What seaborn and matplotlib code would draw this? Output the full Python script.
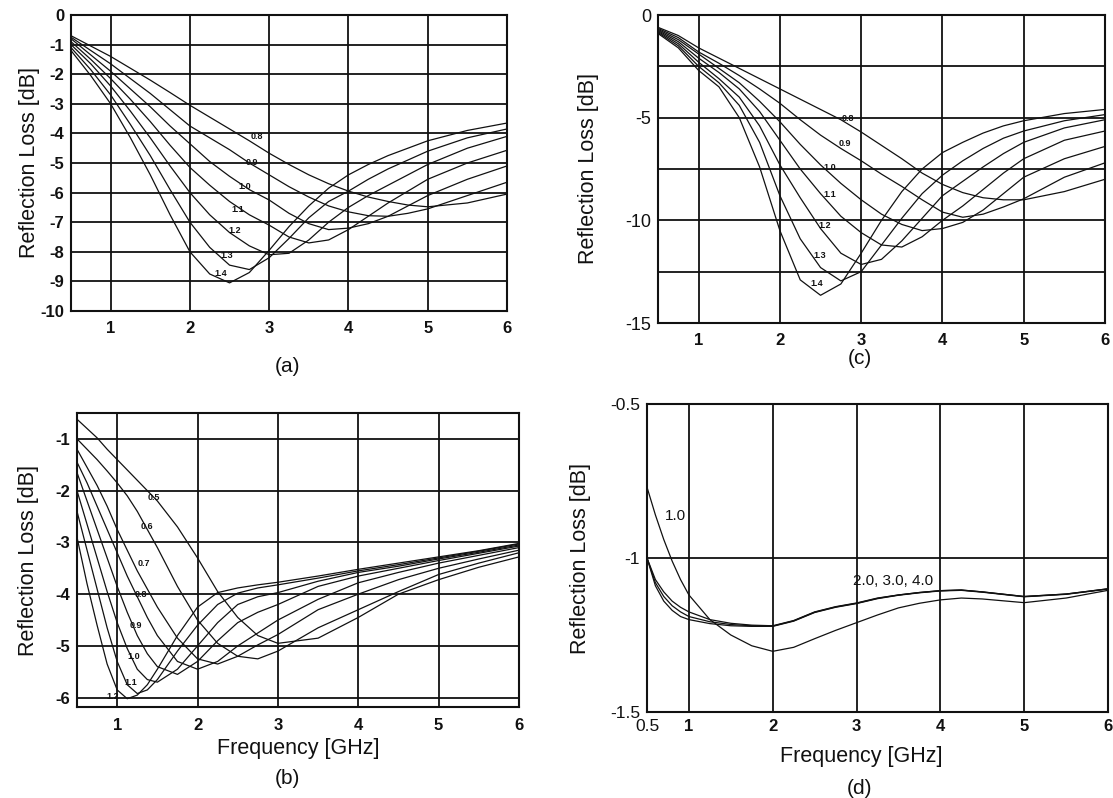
import numpy as np
import pandas as pd
import matplotlib
matplotlib.use("Agg")
import matplotlib.pyplot as plt
import seaborn as sns

# ---------------- data ----------------
freq_a = [0.5, 0.75, 1.0, 1.25, 1.5, 1.75, 2.0, 2.25, 2.5, 2.75, 3.0, 3.25, 3.5, 3.75, 4.0, 4.25, 4.5, 4.75, 5.0, 5.5, 6.0]
labels_a = ["0.8", "0.9", "1.0", "1.1", "1.2", "1.3", "1.4"]
rl_a_08 = [-0.7, -1.05, -1.4, -1.8, -2.2, -2.62, -3.05, -3.45, -3.85, -4.25, -4.67, -5.05, -5.4, -5.7, -5.95, -6.15, -6.3, -6.42, -6.48, -6.35, -6.05]
rl_a_09 = [-0.75, -1.2, -1.65, -2.15, -2.65, -3.2, -3.75, -4.15, -4.55, -5.0, -5.4, -5.8, -6.15, -6.45, -6.65, -6.78, -6.8, -6.7, -6.55, -6.1, -5.65]
rl_a_10 = [-0.8, -1.35, -1.9, -2.5, -3.1, -3.75, -4.35, -4.95, -5.45, -5.9, -6.25, -6.7, -7.05, -7.25, -7.2, -7.05, -6.8, -6.45, -6.1, -5.55, -5.1]
rl_a_11 = [-0.9, -1.5, -2.15, -2.85, -3.6, -4.4, -5.15, -5.75, -6.3, -6.75, -7.1, -7.5, -7.7, -7.6, -7.25, -6.8, -6.35, -5.95, -5.55, -5.0, -4.57]
rl_a_12 = [-1.0, -1.65, -2.4, -3.25, -4.15, -5.1, -6.0, -6.75, -7.35, -7.8, -8.1, -8.05, -7.6, -7.0, -6.5, -6.1, -5.75, -5.4, -5.05, -4.5, -4.1]
rl_a_13 = [-1.1, -1.85, -2.7, -3.7, -4.75, -5.9, -7.0, -7.85, -8.45, -8.6, -8.2, -7.55, -6.85, -6.3, -5.95, -5.55, -5.2, -4.9, -4.6, -4.15, -3.85]
rl_a_14 = [-1.2, -2.05, -3.0, -4.15, -5.4, -6.75, -8.0, -8.75, -9.05, -8.7, -7.95, -7.15, -6.45, -5.85, -5.4, -5.05, -4.75, -4.5, -4.25, -3.9, -3.65]

freq_c = [0.5, 0.75, 1.0, 1.25, 1.5, 1.75, 2.0, 2.25, 2.5, 2.75, 3.0, 3.25, 3.5, 3.75, 4.0, 4.25, 4.5, 4.75, 5.0, 5.5, 6.0]
labels_c = ["0.8", "0.9", "1.0", "1.1", "1.2", "1.3", "1.4"]
rl_c_08 = [-0.6, -1.0, -1.6, -2.1, -2.6, -3.1, -3.6, -4.1, -4.6, -5.1, -5.7, -6.35, -7.0, -7.7, -8.25, -8.65, -8.9, -9.0, -9.0, -8.6, -8.0]
rl_c_09 = [-0.65, -1.1, -1.8, -2.35, -2.95, -3.6, -4.3, -5.1, -5.85, -6.5, -7.1, -7.75, -8.35, -9.0, -9.6, -9.85, -9.7, -9.35, -8.95, -7.9, -7.2]
rl_c_10 = [-0.7, -1.2, -1.9, -2.6, -3.3, -4.2, -5.2, -6.3, -7.3, -8.2, -9.0, -9.7, -10.2, -10.5, -10.4, -10.1, -9.5, -8.7, -7.9, -7.0, -6.4]
rl_c_11 = [-0.75, -1.3, -2.1, -2.8, -3.6, -4.7, -6.1, -7.5, -8.7, -9.8, -10.6, -11.2, -11.3, -10.8, -10.0, -9.3, -8.5, -7.7, -7.0, -6.1, -5.65]
rl_c_12 = [-0.8, -1.4, -2.3, -3.1, -4.0, -5.4, -7.3, -8.9, -10.4, -11.6, -12.15, -11.9, -11.0, -9.9, -8.8, -8.1, -7.4, -6.75, -6.2, -5.5, -5.1]
rl_c_13 = [-0.85, -1.5, -2.5, -3.3, -4.4, -6.2, -8.8, -10.9, -12.3, -12.95, -12.5, -11.2, -9.9, -8.7, -7.8, -7.1, -6.5, -6.0, -5.65, -5.15, -4.85]
rl_c_14 = [-0.9, -1.6, -2.7, -3.5, -5.0, -7.4, -10.5, -12.9, -13.65, -13.1, -11.6, -10.0, -8.6, -7.5, -6.7, -6.2, -5.75, -5.4, -5.15, -4.8, -4.6]

freq_b = [0.5, 0.625, 0.75, 0.875, 1.0, 1.125, 1.25, 1.375, 1.5, 1.75, 2.0, 2.25, 2.5, 2.75, 3.0, 3.5, 4.0, 4.5, 5.0, 5.5, 6.0]
labels_b = ["0.5", "0.6", "0.7", "0.8", "0.9", "1.0", "1.1", "1.2"]
rl_b_05 = [-0.62, -0.8, -0.98, -1.2, -1.4, -1.6, -1.8, -2.0, -2.2, -2.7, -3.3, -3.95, -4.45, -4.8, -4.95, -4.85, -4.45, -4.0, -3.72, -3.48, -3.28]
rl_b_06 = [-1.0, -1.2, -1.4, -1.62, -1.85, -2.1, -2.4, -2.75, -3.1, -3.85, -4.5, -4.95, -5.2, -5.25, -5.1, -4.65, -4.3, -3.95, -3.62, -3.4, -3.2]
rl_b_07 = [-1.2, -1.55, -1.9, -2.3, -2.75, -3.15, -3.55, -3.9, -4.25, -4.85, -5.25, -5.35, -5.2, -4.98, -4.78, -4.3, -4.0, -3.72, -3.5, -3.32, -3.15]
rl_b_08 = [-1.45, -1.85, -2.3, -2.75, -3.2, -3.65, -4.05, -4.45, -4.8, -5.3, -5.45, -5.3, -5.0, -4.75, -4.5, -4.1, -3.78, -3.58, -3.4, -3.25, -3.1]
rl_b_09 = [-1.65, -2.2, -2.75, -3.3, -3.85, -4.35, -4.8, -5.15, -5.4, -5.55, -5.3, -4.9, -4.55, -4.35, -4.2, -3.85, -3.65, -3.5, -3.35, -3.21, -3.07]
rl_b_10 = [-2.0, -2.65, -3.3, -3.95, -4.55, -5.05, -5.45, -5.65, -5.7, -5.45, -5.0, -4.55, -4.2, -4.05, -3.97, -3.75, -3.58, -3.46, -3.32, -3.19, -3.05]
rl_b_11 = [-2.4, -3.15, -3.9, -4.65, -5.3, -5.75, -5.92, -5.85, -5.65, -5.1, -4.6, -4.2, -3.98, -3.88, -3.82, -3.69, -3.55, -3.43, -3.3, -3.17, -3.03]
rl_b_12 = [-2.9, -3.8, -4.6, -5.35, -5.85, -6.02, -5.95, -5.75, -5.45, -4.8, -4.25, -3.97, -3.88, -3.82, -3.77, -3.65, -3.52, -3.4, -3.28, -3.16, -3.02]

freq_d = [0.5, 0.6, 0.7, 0.8, 0.9, 1.0, 1.25, 1.5, 1.75, 2.0, 2.25, 2.5, 2.75, 3.0, 3.25, 3.5, 3.75, 4.0, 4.25, 4.5, 5.0, 5.5, 6.0]
labels_d = ["1.0", "2.0", "3.0", "4.0"]
rl_d_10 = [-0.77, -0.86, -0.94, -1.01, -1.07, -1.12, -1.2, -1.25, -1.285, -1.303, -1.29, -1.262, -1.235, -1.21, -1.185, -1.162, -1.147, -1.136, -1.13, -1.133, -1.145, -1.13, -1.105]
rl_d_20 = [-1.0, -1.07, -1.11, -1.14, -1.16, -1.175, -1.2, -1.212, -1.218, -1.22, -1.203, -1.175, -1.158, -1.146, -1.13, -1.12, -1.112, -1.106, -1.104, -1.11, -1.125, -1.117, -1.1]
rl_d_30 = [-1.0, -1.09, -1.14, -1.17, -1.19, -1.2, -1.213, -1.22, -1.222, -1.222, -1.205, -1.177, -1.16, -1.148, -1.132, -1.121, -1.113, -1.107, -1.105, -1.111, -1.126, -1.118, -1.101]
rl_d_40 = [-1.0, -1.08, -1.125, -1.155, -1.175, -1.19, -1.207, -1.216, -1.22, -1.221, -1.204, -1.176, -1.159, -1.147, -1.131, -1.12, -1.112, -1.106, -1.104, -1.11, -1.125, -1.117, -1.1]

# curve label positions (data coords)
lab_a_x = [2.85, 2.78, 2.69, 2.6, 2.57, 2.46, 2.39]
lab_a_y = [-4.12, -4.98, -5.8, -6.57, -7.27, -8.12, -8.74]
lab_c_x = [2.84, 2.8, 2.61, 2.61, 2.55, 2.49, 2.45]
lab_c_y = [-5.05, -6.25, -7.45, -8.73, -10.26, -11.7, -13.1]
lab_b_x = [1.46, 1.375, 1.33, 1.29, 1.23, 1.21, 1.17, 0.94]
lab_b_y = [-2.13, -2.7, -3.4, -4.0, -4.6, -5.2, -5.7, -5.98]


def long_df(freq, series, names):
    rows = []
    for name, vals in zip(names, series):
        for f, v in zip(freq, vals):
            rows.append((f, v, name))
    return pd.DataFrame(rows, columns=["f", "rl", "d"])


df_a = long_df(freq_a, [rl_a_08, rl_a_09, rl_a_10, rl_a_11, rl_a_12, rl_a_13, rl_a_14], labels_a)
df_c = long_df(freq_c, [rl_c_08, rl_c_09, rl_c_10, rl_c_11, rl_c_12, rl_c_13, rl_c_14], labels_c)
df_b = long_df(freq_b, [rl_b_05, rl_b_06, rl_b_07, rl_b_08, rl_b_09, rl_b_10, rl_b_11, rl_b_12], labels_b)
df_d = long_df(freq_d, [rl_d_10, rl_d_20, rl_d_30, rl_d_40], labels_d)

# ---------------- style ----------------
sns.set_theme(style="white")
plt.rcParams["font.family"] = ["Liberation Sans", "DejaVu Sans"]
plt.rcParams["axes.edgecolor"] = "black"
plt.rcParams["axes.unicode_minus"] = False

INK = "#111111"
W, H = 1113, 798
fig = plt.figure(figsize=(W / 100, H / 100), dpi=100)


def px_axes(l, r, t, b):
    return fig.add_axes([l / W, 1 - b / H, (r - l) / W, (b - t) / H])


ax_a = px_axes(71, 507, 15, 311)
ax_c = px_axes(658, 1105, 15, 323)
ax_b = px_axes(77, 519, 413, 707)
ax_d = px_axes(647, 1108, 404, 712)


def draw(ax, df, n):
    sns.lineplot(data=df, x="f", y="rl", hue="d", palette=[INK] * n,
                 estimator=None, sort=False, legend=False, linewidth=0.9, ax=ax)


def style(ax, ylim, yticks, yticklabels, ygrid, xticks, xticklabels, ybold, ysize, xgrid):
    ax.set_xlim(0.5, 6)
    ax.set_ylim(*ylim)
    ax.set_xticks(xticks)
    ax.set_xticklabels(xticklabels)
    ax.set_yticks(yticks)
    ax.set_yticklabels(yticklabels)
    ax.grid(False)
    for g in ygrid:
        ax.axhline(g, color=INK, lw=1.3, zorder=0)
    for g in xgrid:
        ax.axvline(g, color=INK, lw=1.3, zorder=0)
    ax.tick_params(length=0, which="both")
    ax.tick_params(axis="y", pad=5)
    for s in ax.spines.values():
        s.set_color(INK)
        s.set_linewidth(1.5)
    ax.set_xlabel("")
    ax.set_ylabel("")
    for lbl in ax.get_xticklabels():
        lbl.set_fontweight("bold")
        lbl.set_fontsize(12)
        lbl.set_color(INK)
    for lbl in ax.get_yticklabels():
        lbl.set_fontweight("bold" if ybold else "normal")
        lbl.set_fontsize(ysize)
        lbl.set_color(INK)


draw(ax_a, df_a, 7)
draw(ax_c, df_c, 7)
draw(ax_b, df_b, 8)
draw(ax_d, df_d, 4)

xt = [1, 2, 3, 4, 5, 6]
xtl = ["1", "2", "3", "4", "5", "6"]
ya = list(range(0, -11, -1))
style(ax_a, (-10, 0), ya, [str(v) for v in ya], list(range(-1, -10, -1)), xt, xtl, True, 12, xt[:-1])
style(ax_c, (-15, 0), [0, -5, -10, -15], ["0", "-5", "-10", "-15"], [-2.5, -5, -7.5, -10, -12.5], xt, xtl, False, 13, xt[:-1])
yb = [-1, -2, -3, -4, -5, -6]
style(ax_b, (-6.18, -0.5), yb, [str(v) for v in yb], yb, xt, xtl, True, 12, xt[:-1])
style(ax_d, (-1.5, -0.5), [-0.5, -1, -1.5], ["-0.5", "-1", "-1.5"], [-1], [0.5] + xt, ["0.5"] + xtl, False, 12.5, xt[:-1])
for i, lbl in enumerate(ax_d.get_xticklabels()):
    if i == 0:
        lbl.set_fontweight("normal")
        lbl.set_fontsize(12.5)

ax_a.tick_params(axis="x", pad=7)
ax_c.tick_params(axis="x", pad=7)
ax_b.tick_params(axis="x", pad=8)
ax_d.tick_params(axis="x", pad=5)

# axis labels
for ax, xc in ((ax_a, -0.071), (ax_c, -0.132), (ax_b, -0.086), (ax_d, -0.122)):
    ax.set_ylabel("Reflection Loss [dB]", fontsize=15.5, color=INK)
    ax.yaxis.set_label_coords(xc, 0.5)
ax_b.set_xlabel("Frequency [GHz]", fontsize=15.5, color=INK)
ax_b.xaxis.set_label_coords(0.5, -0.105)
ax_d.set_xlabel("Frequency [GHz]", fontsize=15.5, color=INK)
ax_d.xaxis.set_label_coords(0.464, -0.11)

# curve labels
for t, x, y in zip(labels_a, lab_a_x, lab_a_y):
    ax_a.text(x, y, t, fontsize=6.5, fontweight="bold", ha="center", va="center", color=INK)
for t, x, y in zip(labels_c, lab_c_x, lab_c_y):
    ax_c.text(x, y, t, fontsize=6.5, fontweight="bold", ha="center", va="center", color=INK)
for t, x, y in zip(labels_b, lab_b_x, lab_b_y):
    ax_b.text(x, y, t, fontsize=6.5, fontweight="bold", ha="center", va="center", color=INK)
ax_d.text(0.84, -0.865, "1.0", fontsize=11, ha="center", va="center", color=INK)
ax_d.text(3.44, -1.076, "2.0, 3.0, 4.0", fontsize=11, ha="center", va="center", color=INK)

# panel letters
for s, x, y in (("(a)", 287, 367), ("(c)", 860, 358), ("(b)", 287, 778), ("(d)", 860, 788)):
    fig.text(x / W, 1 - y / H, s, fontsize=15, ha="center", va="center", color=INK)

fig.savefig("out.png", dpi=100, facecolor="white")
